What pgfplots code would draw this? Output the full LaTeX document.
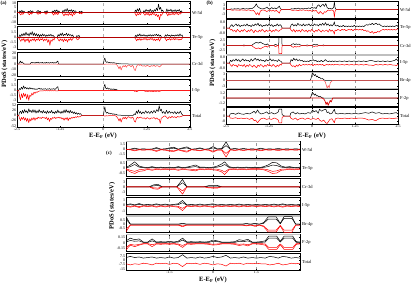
\documentclass[border=0pt]{standalone}
\usepackage{fontspec}
\setmainfont{Liberation Serif}
\usepackage{pgfplots}
\pgfplotsset{compat=1.18}
\usepackage{pgfplotstable}

\pgfplotstableread{
x u d
-2.50 0 0
-2.45 0 0
-2.42 1.8 -1.2
-2.39 0.4 -2.6
-2.36 2.4 -0.8
-2.33 0.6 -2.0
-2.30 1.5 -0.5
-2.27 0 0
-2.20 0 0
-2.17 1.2 -1.4
-2.14 0.5 -2.4
-2.11 2.0 -0.6
-2.08 0.8 -1.7
-2.05 1.6 -0.4
-2.02 0 0
-1.95 0 0
-1.92 1.0 -0.9
-1.89 2.2 -2.0
-1.86 0.5 -0.6
-1.83 1.4 -1.5
-1.80 0 0
-1.72 0 0
-1.69 1.3 -0.8
-1.66 0.4 -1.9
-1.63 1.9 -0.7
-1.60 0 0
-1.50 0 0
-1.47 1.6 -1.3
-1.44 0.6 -2.7
-1.41 2.4 -0.6
-1.38 1.0 -1.9
-1.35 2.8 -0.8
-1.32 0.5 -2.2
-1.29 1.7 -0.4
-1.26 0 0
-1.20 0 0
-1.17 2.2 -1.8
-1.14 0.7 -3.6
-1.11 3.4 -1.0
-1.08 1.2 -2.8
-1.05 4.2 -1.4
-1.02 0.9 -3.2
-0.99 2.6 -0.8
-0.96 1.4 -2.5
-0.93 3.0 -1.1
-0.90 0.8 -3.8
-0.87 2.4 -0.9
-0.84 1.1 -2.1
-0.81 1.8 -0.6
-0.78 0 0
-0.72 0 0
-0.69 1.2 -1.2
-0.66 0.4 -0.5
-0.63 1.4 -1.4
-0.60 0 0
0.90 0 0
0.92 2.6 -1.6
0.95 0.8 -3.5
0.98 3.8 -1.0
1.01 1.2 -2.6
1.04 4.4 -0.9
1.07 0.9 -2.2
1.10 0 0
1.14 0 0
1.17 2.0 -1.4
1.20 0.6 -3.0
1.23 3.2 -0.8
1.26 1.3 -2.4
1.29 2.6 -0.6
1.32 0.7 -3.2
1.35 3.6 -1.2
1.38 1.0 -2.8
1.41 2.2 -0.7
1.44 0.8 -2.0
1.47 3.0 -1.1
1.50 1.4 -3.4
1.53 4.6 -1.6
1.56 2.0 -4.2
1.59 8.8 -2.4
1.62 3.2 -7.6
1.65 5.4 -1.8
1.68 1.2 -3.0
1.71 2.6 -0.8
1.74 0 0
1.80 0 0
1.83 3.8 -1.4
1.86 1.0 -3.6
1.89 2.8 -0.8
1.92 1.6 -2.8
1.95 3.4 -1.2
1.98 0.8 -2.2
2.01 2.4 -0.6
2.04 1.2 -2.6
2.07 3.0 -1.0
2.10 0.9 -1.8
2.13 2.6 -0.7
2.16 1.4 -2.4
2.19 3.2 -1.2
2.22 0.6 -1.6
2.25 1.8 -0.5
2.28 0 0
2.50 0 0
}\aW

\pgfplotstableread{
x u d
-2.50 0 0
-2.45 0 0
-2.42 0.8 -0.6
-2.39 0.3 -1.2
-2.36 1.1 -0.4
-2.33 0.5 -0.9
-2.30 1.3 -0.3
-2.27 0.6 -1.4
-2.24 1.6 -0.5
-2.21 0.7 -1.0
-2.18 1.2 -0.3
-2.15 0.4 -1.6
-2.12 1.5 -0.6
-2.09 0.8 -1.1
-2.06 1.8 -0.4
-2.03 0.6 -0.9
-2.00 1.4 -0.3
-1.97 0.5 -1.2
-1.94 1.2 -0.5
-1.91 0.4 -0.8
-1.88 1.0 -0.3
-1.85 0.3 -1.0
-1.82 0.9 -0.4
-1.79 0.4 -0.7
-1.76 1.1 -0.3
-1.73 0.5 -1.1
-1.70 0.9 -0.5
-1.67 0.3 -0.9
-1.64 0.8 -0.4
-1.61 0.4 -1.5
-1.58 0.9 -0.6
-1.55 0.5 -2.4
-1.52 1.0 -0.7
-1.49 0.4 -1.2
-1.46 0.7 -0.4
-1.43 0.3 -0.8
-1.40 0 0
-1.34 0 0
-1.31 0.9 -0.6
-1.28 0.4 -1.1
-1.25 1.2 -0.4
-1.22 0.6 -0.9
-1.19 1.4 -0.5
-1.16 0.5 -1.3
-1.13 1.0 -0.4
-1.10 0.7 -1.0
-1.07 1.3 -0.6
-1.04 0.5 -1.4
-1.01 1.1 -0.5
-0.98 0.6 -0.8
-0.95 0.9 -0.3
-0.92 0.4 -0.9
-0.89 0.8 -0.4
-0.86 0 0
-0.80 0 0
-0.77 0.6 -0.5
-0.74 0.3 -0.7
-0.71 0.7 -0.3
-0.68 0 0
0.90 0 0
0.93 0.7 -0.5
0.96 0.3 -1.0
0.99 0.9 -0.4
1.02 0.5 -0.8
1.05 1.1 -0.3
1.08 0.4 -0.9
1.11 0.8 -0.4
1.14 0.5 -0.7
1.17 0.9 -0.3
1.20 0.4 -0.6
1.23 0.7 -0.3
1.26 0.3 -0.8
1.29 0.8 -0.4
1.32 0.5 -0.7
1.35 0.9 -0.3
1.38 0.4 -0.6
1.41 0.8 -0.3
1.44 0.5 -0.9
1.47 0.9 -0.4
1.50 0.6 -1.0
1.53 1.0 -0.5
1.56 0.5 -0.8
1.59 0.9 -0.3
1.62 0.4 -1.1
1.65 0.7 -0.4
1.68 0 0
1.76 0 0
1.79 0.8 -0.4
1.82 0.4 -1.0
1.85 0.9 -0.5
1.88 0.5 -0.7
1.91 0.7 -0.3
1.94 0.3 -0.8
1.97 0.8 -0.4
2.00 0.5 -0.6
2.03 0.7 -0.3
2.06 0.4 -0.7
2.09 0.8 -0.3
2.12 0.5 -0.6
2.15 0.9 -0.4
2.18 0.4 -0.8
2.21 1.1 -0.5
2.24 0.5 -0.7
2.27 0.8 -0.3
2.30 0 0
2.50 0 0
}\aTe

\pgfplotstableread{
x u d
-2.50 0 0
-2.45 0 0
-2.42 3.5 -0.3
-2.40 5.5 -0.5
-2.38 2.0 -0.2
-2.35 4.0 -0.4
-2.32 1.5 -0.2
-2.29 0 0
-2.12 0 0
-2.10 2.0 -0.2
-2.07 3.2 -0.3
-2.04 1.8 -0.2
-2.01 2.8 -0.3
-1.98 1.5 -0.2
-1.95 3.0 -0.3
-1.92 2.0 -0.2
-1.89 3.4 -0.4
-1.86 1.6 -0.2
-1.83 2.6 -0.3
-1.80 1.8 -0.2
-1.77 3.0 -0.3
-1.74 1.5 -0.2
-1.71 2.4 -0.3
-1.68 1.7 -0.2
-1.65 3.2 -0.4
-1.62 1.8 -0.2
-1.59 2.6 -0.3
-1.56 1.6 -0.2
-1.53 2.8 -0.3
-1.50 1.9 -0.2
-1.47 3.0 -0.3
-1.44 1.7 -0.2
-1.41 2.5 -0.3
-1.38 1.8 -0.2
-1.35 3.6 -0.4
-1.32 5.5 -0.5
-1.30 0 0
0.00 0 0
0.02 9.0 -0.5
0.04 11.0 -0.6
0.06 5.0 -0.3
0.09 3.0 -0.2
0.12 4.0 -0.3
0.15 2.2 -0.2
0.18 3.0 -0.2
0.21 1.8 -0.2
0.24 2.6 -0.2
0.27 1.6 -0.1
0.30 2.8 -0.2
0.33 1.4 -0.1
0.36 1.8 -0.3
0.39 0.8 -2.0
0.42 0.6 -5.0
0.45 0.4 -9.0
0.48 0.5 -4.0
0.51 0.3 -11.0
0.54 0.3 -6.0
0.57 0.2 -3.0
0.60 0.2 -5.0
0.63 0.1 -2.5
0.66 0.1 -6.0
0.69 0.1 -3.0
0.72 0 -2.0
0.76 0 -3.0
0.80 0 -5.0
0.83 0 -2.5
0.86 0 -4.0
0.89 0 -10.5
0.92 0 -12.0
0.95 0 -5.0
0.98 0 -2.0
1.01 0 -1.0
1.04 0 -2.5
1.07 0 -1.0
1.10 0 -3.0
1.14 0 -4.0
1.18 0 -3.0
1.22 0 -4.5
1.26 0 -2.5
1.30 0 -3.5
1.34 0 -5.0
1.38 0 -3.0
1.42 0 -4.0
1.46 0 -2.5
1.50 0 -4.5
1.54 0 -3.0
1.58 0 -3.5
1.62 0 -5.5
1.66 0 -3.0
1.70 0 0
2.50 0 0
}\aCr

\pgfplotstableread{
x u d
-2.50 0 0
-2.45 0 0
-2.43 0.6 -1.5
-2.40 0.3 -2.8
-2.37 1.0 -1.0
-2.34 0.4 -2.2
-2.31 1.4 -0.8
-2.28 0.6 -1.8
-2.25 1.0 -1.0
-2.22 0.5 -2.6
-2.19 0.8 -1.2
-2.16 0.4 -3.0
-2.13 0.9 -1.4
-2.10 0.5 -1.8
-2.07 0.7 -0.8
-2.04 0.4 -1.4
-2.01 0.6 -0.5
-1.98 0.3 -0.9
-1.95 0.5 -0.4
-1.92 0.3 -0.6
-1.89 0.6 -0.3
-1.86 0.7 -0.2
-1.83 0.4 -0.1
-1.80 0.6 -0.1
-1.77 0.3 -0.1
-1.74 0.5 -0.1
-1.71 0.4 0
-1.68 0.6 -0.1
-1.65 0.3 0
-1.62 0.5 -0.1
-1.59 0.4 0
-1.56 0.6 -0.1
-1.53 0.3 0
-1.50 0.5 -0.1
-1.47 0.4 0
-1.44 0.6 -0.1
-1.41 0.3 0
-1.38 0.5 -0.1
-1.35 0.9 -0.1
-1.32 1.2 -0.1
-1.30 0 0
0.00 0 0
0.02 1.4 -0.05
0.04 1.9 -0.1
0.06 0.8 -0.05
0.09 0.5 0
0.12 0.8 -0.05
0.15 0.4 0
0.18 0.6 0
0.21 0.3 0
0.24 0.5 0
0.27 0.3 0
0.30 0.5 0
0.33 0.2 0
0.36 0.4 0
0.40 0.1 0
0.45 0.05 0
0.50 0 0
0.88 0 0
0.90 0 -0.3
0.93 0 -0.15
0.96 0 -0.35
0.99 0 -0.2
1.02 0 0
1.18 0 0
1.20 0 -0.3
1.24 0 -0.2
1.28 0 -0.35
1.32 0 -0.15
1.36 0 -0.3
1.40 0 -0.2
1.44 0 -0.35
1.48 0 -0.2
1.52 0 -0.3
1.56 0 -0.15
1.60 0 -0.3
1.64 0 -0.2
1.68 0 0
2.50 0 0
}\aI

\pgfplotstableread{
x u d
-2.50 0 0
-2.45 0 0
-2.43 14 -12
-2.40 22 -26
-2.37 10 -10
-2.34 26 -20
-2.31 12 -8
-2.28 30 -24
-2.25 16 -12
-2.22 24 -30
-2.19 12 -14
-2.16 34 -36
-2.13 18 -16
-2.10 26 -28
-2.07 14 -12
-2.04 30 -22
-2.01 16 -10
-1.98 28 -24
-1.95 12 -12
-1.92 24 -18
-1.89 14 -8
-1.86 30 -14
-1.83 16 -10
-1.80 22 -16
-1.77 12 -8
-1.74 26 -12
-1.71 14 -10
-1.68 20 -16
-1.65 10 -8
-1.62 24 -22
-1.59 12 -12
-1.56 20 -30
-1.53 14 -14
-1.50 26 -20
-1.47 12 -10
-1.44 18 -14
-1.41 10 -8
-1.38 22 -16
-1.35 12 -10
-1.32 28 -12
-1.29 14 -8
-1.26 20 -14
-1.23 10 -10
-1.20 22 -18
-1.17 12 -12
-1.14 28 -24
-1.11 14 -12
-1.08 30 -20
-1.05 16 -10
-1.02 24 -26
-0.99 12 -12
-0.96 26 -18
-0.93 14 -10
-0.90 20 -14
-0.87 10 -8
-0.84 18 -12
-0.81 8 -6
-0.78 14 -10
-0.75 6 -4
-0.72 12 -8
-0.69 6 -6
-0.66 10 -4
-0.63 0 0
0.00 0 0
0.02 30 -2
0.04 44 -3
0.06 20 -2
0.09 12 -1
0.12 16 -2
0.15 10 -1
0.18 12 -1
0.21 8 -1
0.24 10 -1
0.27 6 -1
0.30 9 -1
0.33 5 -1
0.36 7 -2
0.39 3 -8
0.42 2 -16
0.45 2 -28
0.48 2 -14
0.51 1 -34
0.54 1 -18
0.57 1 -10
0.60 1 -16
0.63 1 -8
0.66 1 -18
0.69 1 -10
0.72 1 -6
0.76 1 -10
0.80 1 -14
0.83 1 -8
0.86 1 -12
0.89 8 -28
0.92 4 -34
0.95 22 -16
0.98 10 -8
1.01 28 -14
1.04 12 -10
1.07 20 -8
1.10 8 -12
1.14 18 -14
1.18 10 -12
1.22 24 -18
1.26 12 -10
1.30 20 -14
1.34 10 -18
1.38 22 -12
1.42 12 -14
1.46 26 -10
1.50 14 -18
1.54 30 -12
1.58 20 -20
1.61 50 -18
1.64 24 -40
1.67 32 -14
1.70 12 -10
1.74 20 -4
1.78 8 -2
1.82 26 -8
1.86 10 -16
1.90 22 -6
1.94 12 -12
1.98 18 -4
2.02 10 -10
2.06 20 -6
2.10 8 -12
2.14 18 -4
2.18 10 -8
2.22 22 -6
2.26 8 -4
2.30 0 0
2.50 0 0
}\aT

\pgfplotstableread{
x u d
-2.50 0 0
-2.38 0 0
-2.35 0.4 -0.3
-2.30 0.2 -0.5
-2.25 0.5 -0.2
-2.20 0.3 -0.4
-2.15 0.6 -0.3
-2.10 0.2 -0.5
-2.05 0.4 -0.2
-2.00 0.7 -0.4
-1.95 0.3 -0.3
-1.90 0.5 -0.6
-1.85 0.4 -0.2
-1.80 0.8 -0.5
-1.75 0.5 -0.9
-1.70 1.2 -0.6
-1.66 2.0 -1.6
-1.62 3.6 -3.2
-1.58 1.8 -2.0
-1.54 1.2 -3.6
-1.50 0.6 -1.0
-1.45 0.4 -0.4
-1.40 0.6 -0.3
-1.35 0.9 -0.8
-1.31 1.6 -1.4
-1.27 0.6 -0.5
-1.22 0.4 -0.3
-1.17 1.2 -1.0
-1.13 0.5 -0.4
-1.08 1.0 -1.2
-1.04 0.4 -0.5
-0.98 1.4 -1.6
-0.95 2.2 -2.4
-0.92 0.5 -0.6
-0.88 0 0
-0.64 0 0
-0.60 0.5 -0.4
-0.55 0.3 -0.6
-0.50 0.7 -0.3
-0.45 0.4 -0.5
-0.40 0.9 -0.7
-0.35 0.3 -0.3
-0.30 0.6 -0.5
-0.25 0.4 -0.2
-0.20 0.8 -0.6
-0.15 0.5 -0.4
-0.10 1.0 -0.9
-0.05 0.6 -0.5
0.00 1.4 -1.2
0.04 0.8 -0.6
0.08 1.2 -1.0
0.12 0.6 -0.5
0.16 2.4 -1.8
0.20 3.0 -2.6
0.24 1.6 -1.2
0.28 2.6 -2.2
0.32 3.4 -3.0
0.36 2.0 -1.4
0.40 3.8 -1.8
0.44 1.2 -0.8
0.48 0.6 -0.4
0.52 0.8 -0.6
0.56 0.4 -0.3
0.60 0.6 -0.5
0.63 1.4 -1.0
0.65 5.0 -5.0
0.67 1.2 -1.2
0.70 0 0
2.50 0 0
}\bW

\pgfplotstableread{
x u d
-2.50 0 0
-2.40 0 0
-2.37 0.3 -0.3
-2.33 0.5 -0.2
-2.29 0.2 -0.5
-2.25 0.4 -0.3
-2.21 0.6 -0.6
-2.17 0.3 -0.2
-2.13 0.5 -0.4
-2.09 0.2 -0.6
-2.05 0.4 -0.3
-2.01 0.3 -0.5
-1.97 0.5 -0.2
-1.93 0.3 -0.4
-1.89 0.6 -0.6
-1.85 0.3 -0.3
-1.81 0.4 -0.5
-1.77 0.2 -0.2
-1.73 0.5 -0.4
-1.69 0.3 -0.7
-1.65 0.6 -0.3
-1.61 0.4 -0.5
-1.57 0.7 -0.6
-1.53 0.3 -0.3
-1.49 0.5 -0.5
-1.45 0.2 -0.2
-1.41 0.4 -0.4
-1.37 0.3 -0.6
-1.33 0.5 -0.3
-1.29 0.3 -0.5
-1.25 0.6 -0.4
-1.21 0.3 -0.3
-1.17 0.5 -0.6
-1.13 0.2 -0.3
-1.09 0.4 -0.5
-1.05 0.3 -0.2
-1.01 0.6 -0.4
-0.97 0.3 -0.5
-0.93 0.5 -0.3
-0.89 0.3 -0.2
-0.87 0 0
-0.64 0 0
-0.61 0.4 -0.3
-0.57 0.6 -0.5
-0.53 0.3 -0.2
-0.49 0.5 -0.6
-0.45 0.3 -0.3
-0.41 0.7 -0.5
-0.37 0.4 -0.3
-0.33 0.5 -0.6
-0.29 0.3 -0.2
-0.25 0.6 -0.4
-0.21 0.3 -0.5
-0.17 0.5 -0.3
-0.13 0.4 -0.6
-0.09 0.6 -0.3
-0.05 0.3 -0.5
-0.01 0.5 -0.2
0.03 0.3 -0.4
0.07 0.6 -0.6
0.11 0.4 -0.3
0.15 0.5 -0.5
0.19 0.3 -0.2
0.23 0.6 -0.4
0.27 0.4 -0.6
0.31 0.7 -0.3
0.35 0.4 -0.5
0.39 0.8 -0.4
0.43 0.4 -0.3
0.47 0.6 -0.6
0.51 0.3 -0.2
0.55 0.5 -0.5
0.59 0.3 -0.3
0.63 0.6 -0.6
0.65 0.9 -0.9
0.67 0.4 -0.3
0.71 0.3 -0.4
0.75 0.4 -0.2
0.79 0.2 -0.3
0.83 0.3 -0.4
0.87 0.2 -0.2
0.91 0.4 -0.3
0.95 0.2 -0.2
0.99 0.3 -0.4
1.03 0.2 -0.3
1.07 0.3 -0.2
1.11 0.2 -0.3
1.15 0.3 -0.2
1.19 0.2 -0.4
1.23 0.4 -0.2
1.27 0.2 -0.3
1.31 0.3 -0.2
1.35 0.2 -0.3
1.39 0.3 -0.2
1.43 0.2 -0.3
1.47 0.3 -0.2
1.51 0.2 -0.4
1.55 0.4 -0.3
1.59 0.5 -0.5
1.63 0.4 -0.4
1.67 0.6 -0.6
1.71 0.5 -0.7
1.75 0.7 -0.5
1.79 0.5 -0.8
1.83 0.6 -0.6
1.87 0.7 -0.7
1.91 0.5 -0.5
1.95 0.6 -0.6
1.99 0.4 -0.4
2.03 0.3 -0.3
2.07 0.2 -0.2
2.11 0.3 -0.3
2.15 0.2 -0.2
2.19 0.3 -0.3
2.23 0.2 -0.2
2.27 0.3 -0.3
2.31 0.2 -0.2
2.35 0.3 -0.3
2.39 0.2 -0.2
2.43 0.3 -0.3
2.47 0.4 -0.2
2.50 0.2 -0.1
}\bTe

\pgfplotstableread{
x u d
-2.50 0 0
-2.00 0 0
-1.98 0.3 -0.3
-1.95 0 0
-1.75 0 0
-1.72 0.5 -0.5
-1.68 1.0 -1.0
-1.62 1.6 -1.6
-1.56 1.2 -1.2
-1.50 1.7 -1.7
-1.44 1.0 -1.0
-1.38 0.6 -0.6
-1.34 0.3 -0.3
-1.30 0.8 -0.8
-1.26 0.2 -0.2
-1.22 0 0
-1.10 0 0
-1.07 0.6 -0.6
-1.03 0.3 -0.3
-1.00 0 0
-0.97 0 0
-0.96 4.0 -4.0
-0.88 4.0 -4.0
-0.87 0 0
-0.62 0 0
-0.58 0.6 -0.6
-0.54 0.9 -0.9
-0.50 0.4 -0.4
-0.46 0.8 -0.8
-0.42 0.5 -0.5
-0.38 0.7 -0.7
-0.34 0.3 -0.3
-0.30 0 0
-0.18 0 0
-0.14 0.3 -0.3
-0.10 0 0
0.00 0 0
0.03 0.4 -0.3
0.07 0.6 -0.5
0.11 0.3 -0.2
0.15 0.5 -0.4
0.19 0 0
0.30 0 0
0.33 0.3 -0.2
0.36 0 0
2.50 0 0
}\bCr

\pgfplotstableread{
x u d
-2.50 0 0
-2.40 0 0
-2.37 0.4 -0.3
-2.33 0.2 -0.5
-2.29 0.5 -0.2
-2.25 0.3 -0.4
-2.21 0.6 -0.3
-2.17 0.3 -0.6
-2.13 0.5 -0.2
-2.09 0.2 -0.4
-2.05 0.4 -0.3
-2.01 0.6 -0.5
-1.97 0.3 -0.2
-1.93 0.5 -0.6
-1.89 0.3 -0.3
-1.85 0.4 -0.5
-1.81 0.2 -0.2
-1.77 0.6 -0.4
-1.73 0.3 -0.6
-1.69 0.5 -0.3
-1.65 0.7 -0.5
-1.61 0.4 -0.7
-1.57 0.6 -0.3
-1.53 0.3 -0.5
-1.49 0.5 -0.2
-1.45 0.3 -0.4
-1.41 0.4 -0.6
-1.37 0.2 -0.3
-1.33 0.5 -0.5
-1.29 0.3 -0.2
-1.25 0.4 -0.4
-1.21 0.6 -0.3
-1.17 0.3 -0.5
-1.13 0.5 -0.2
-1.09 0.3 -0.4
-1.05 0.4 -0.6
-1.01 0.2 -0.3
-0.97 0.5 -0.5
-0.93 0.3 -0.2
-0.89 0.2 -0.3
-0.87 0 0
-0.64 0 0
-0.61 0.5 -0.3
-0.57 0.3 -0.5
-0.53 0.7 -0.4
-0.49 0.4 -0.6
-0.45 0.6 -0.3
-0.41 0.3 -0.5
-0.37 0.5 -0.2
-0.33 0.3 -0.4
-0.29 0.4 -0.3
-0.25 0.2 -0.2
-0.21 0.3 -0.3
-0.17 0.2 -0.2
-0.13 0.3 -0.3
-0.09 0.2 -0.2
-0.05 0.4 -0.3
-0.01 0.3 -0.2
0.03 0.5 -0.4
0.07 0.3 -0.2
0.11 0.4 -0.3
0.15 0.2 -0.2
0.19 0.3 -0.3
0.23 0.2 -0.2
0.27 0.4 -0.3
0.31 0.2 -0.2
0.35 0.3 -0.4
0.39 0.5 -0.3
0.43 0.3 -0.2
0.47 0.2 -0.3
0.51 0.3 -0.2
0.55 0.2 -0.3
0.59 0.3 -0.2
0.63 0.2 -0.3
0.67 0.3 -0.2
0.73 0.2 -0.2
0.80 0.3 -0.3
0.87 0.2 -0.2
0.94 0.3 -0.3
1.01 0.2 -0.2
1.08 0.3 -0.3
1.15 0.2 -0.2
1.22 0.3 -0.3
1.29 0.2 -0.2
1.36 0.3 -0.3
1.43 0.2 -0.2
1.50 0.3 -0.3
1.57 0.2 -0.2
1.64 0.3 -0.3
1.71 0.4 -0.3
1.78 0.3 -0.4
1.85 0.2 -0.2
1.92 0.3 -0.3
1.99 0.2 -0.2
2.06 0.3 -0.3
2.13 0.2 -0.2
2.20 0.3 -0.3
2.27 0.2 -0.2
2.34 0.3 -0.3
2.41 0.4 -0.3
2.45 0.6 -0.4
2.50 0.3 -0.2
}\bI

\pgfplotstableread{
x u d
-2.50 0 0
-0.05 0 0
-0.02 1.5 0
0.01 3.8 0
0.04 3.2 0
0.07 2.4 0
0.10 3.0 0
0.13 1.8 0
0.16 2.2 0
0.19 1.4 0
0.22 1.6 0
0.26 0.8 0
0.30 1.0 0
0.34 0.4 0
0.38 0 -0.5
0.41 0 -2.0
0.44 0 -3.8
0.47 0 -2.5
0.50 0 -3.6
0.53 0 -1.2
0.56 0 -0.5
0.60 0 0
2.50 0 0
}\bBr

\pgfplotstableread{
x u d
-2.50 0 0
-0.05 0 0
-0.02 0.6 0
0.01 1.4 0
0.04 1.1 0
0.07 0.7 0
0.10 1.0 0
0.13 0.5 0
0.16 0.6 0
0.20 0.3 0
0.24 0.4 0
0.28 0.1 0
0.34 0 -0.2
0.38 0 -0.8
0.41 0 -1.6
0.44 0 -1.0
0.47 0 -1.8
0.50 0 -1.2
0.53 0 -0.6
0.56 0 -1.0
0.60 0 0
2.50 0 0
}\bF

\pgfplotstableread{
x u d
-2.50 0 0
-2.40 0 0
-2.38 3 -3
-2.30 4 -3.5
-2.22 2.5 -2.5
-2.14 4.5 -4
-2.06 3 -3
-1.98 2.5 -4
-1.90 4 -3
-1.82 3 -5
-1.74 5 -3
-1.68 7 -7
-1.64 4 -6
-1.58 9 -10
-1.54 5 -7
-1.48 3 -4
-1.40 4 -3
-1.32 6 -5
-1.26 3 -4
-1.18 5 -5
-1.10 3 -3
-1.04 4 -4
-0.98 6 -6
-0.96 10 -10
-0.88 10 -10
-0.87 2 -2
-0.80 0 0
-0.64 0 0
-0.62 4 -3
-0.55 6 -5
-0.48 3 -3
-0.42 5 -6
-0.36 3 -4
-0.28 4 -3
-0.20 3 -5
-0.12 5 -3
-0.04 4 -5
0.02 9 -4
0.06 6 -4
0.12 8 -5
0.18 4 -3
0.22 10 -6
0.28 7 -8
0.34 9 -6
0.40 10 -10
0.44 5 -11
0.48 6 -8
0.52 3 -5
0.58 4 -4
0.65 10 -10
0.68 4 -4
0.75 3 -3
0.85 4 -4
0.95 3 -3
1.05 4 -4
1.15 3 -3
1.25 4 -4
1.35 3 -3
1.45 4 -3
1.55 5 -4
1.65 4 -6
1.75 6 -5
1.85 4 -7
1.95 5 -4
2.05 3 -3
2.15 4 -4
2.25 3 -3
2.35 4 -4
2.45 5 -3
2.50 3 -3
}\bT

\pgfplotstableread{
x a b c d
-3.00 0 0 0 0
-2.85 0.1 0.05 -0.1 -0.05
-2.70 0.4 0.2 -0.4 -0.2
-2.55 0.1 0.05 -0.1 -0.05
-2.40 0.2 0.1 -0.2 -0.1
-2.25 0.1 0.05 -0.1 -0.05
-2.10 0.15 0.1 -0.15 -0.1
-1.95 0.6 0.3 -0.6 -0.3
-1.80 0.1 0.05 -0.1 -0.05
-1.65 0.2 0.1 -0.2 -0.1
-1.50 0.5 0.3 -0.5 -0.3
-1.35 0.7 0.4 -0.6 -0.4
-1.20 0.1 0.05 -0.1 -0.05
-1.05 0.5 0.3 -0.5 -0.3
-0.90 0.8 0.5 -0.8 -0.5
-0.75 0.1 0.05 -0.1 -0.05
-0.60 0.2 0.1 -0.2 -0.1
-0.45 0.5 0.3 -0.4 -0.3
-0.30 0.1 0.05 -0.1 -0.05
-0.15 0.2 0.1 -0.2 -0.1
0.00 0.9 0.5 -0.8 -0.5
0.15 0.2 0.1 -0.2 -0.1
0.30 0.3 0.1 -0.2 -0.1
0.45 2.3 1.2 -2.3 -1.2
0.60 0.1 0.05 -0.1 -0.05
0.75 0.3 0.2 -0.3 -0.2
0.90 0.1 0.05 -0.1 -0.05
1.05 0.3 0.2 -0.3 -0.2
1.20 0.1 0.05 -0.1 -0.05
1.35 0.2 0.1 -0.2 -0.1
1.50 0.1 0.05 -0.1 -0.05
1.65 0.4 0.2 -0.4 -0.2
1.80 0.1 0.05 -0.1 -0.05
1.95 0.2 0.1 -0.2 -0.1
2.10 0.1 0.05 -0.1 -0.05
2.25 0.3 0.15 -0.3 -0.15
2.40 0.1 0.05 -0.1 -0.05
2.55 0.2 0.1 -0.2 -0.1
2.70 0.1 0.05 -0.1 -0.05
2.85 0.2 0.1 -0.2 -0.1
3.00 0.1 0.05 -0.1 -0.05
}\cW

\pgfplotstableread{
x a b c d
-3.00 0.05 0.02 -0.1 -0.05
-2.85 0.3 0.15 -0.35 -0.2
-2.70 0.6 0.35 -0.5 -0.3
-2.55 0.2 0.1 -0.3 -0.15
-2.40 0.1 0.05 -0.25 -0.1
-2.25 0.05 0.02 -0.1 -0.05
-2.10 0.15 0.08 -0.2 -0.1
-1.95 0.05 0.02 -0.1 -0.05
-1.80 0.1 0.05 -0.15 -0.08
-1.65 0.05 0.02 -0.1 -0.05
-1.50 0.1 0.05 -0.15 -0.08
-1.35 0.05 0.02 -0.1 -0.05
-1.20 0.15 0.08 -0.2 -0.1
-1.05 0.05 0.02 -0.1 -0.05
-0.90 0.1 0.05 -0.15 -0.08
-0.75 0.2 0.1 -0.2 -0.1
-0.60 0.3 0.15 -0.25 -0.15
-0.45 0.1 0.05 -0.1 -0.05
-0.30 0.1 0.05 -0.15 -0.08
-0.15 0.05 0.02 -0.1 -0.05
0.00 0.1 0.05 -0.15 -0.08
0.15 0.2 0.1 -0.2 -0.1
0.30 0.4 0.2 -0.35 -0.2
0.40 0.6 0.35 -0.6 -0.35
0.55 0.15 0.08 -0.15 -0.08
0.70 0.05 0.02 -0.1 -0.05
0.85 0.1 0.05 -0.15 -0.08
1.00 0.05 0.02 -0.1 -0.05
1.15 0.1 0.05 -0.15 -0.08
1.30 0.05 0.02 -0.1 -0.05
1.45 0.1 0.05 -0.1 -0.05
1.60 0.05 0.02 -0.1 -0.05
1.75 0.15 0.08 -0.15 -0.08
1.90 0.3 0.15 -0.3 -0.15
2.05 0.55 0.3 -0.5 -0.3
2.20 0.5 0.25 -0.45 -0.25
2.35 0.2 0.1 -0.2 -0.1
2.50 0.1 0.05 -0.15 -0.08
2.65 0.15 0.08 -0.1 -0.05
2.80 0.05 0.02 -0.15 -0.08
3.00 0.1 0.05 -0.1 -0.05
}\cTe

\pgfplotstableread{
x a b c d
-3.00 0 0 0 0
-2.20 0 0 0 0
-2.05 1.2 0.6 -1.2 -0.6
-1.90 1.5 0.8 -1.5 -0.8
-1.75 0 0 0 0
-1.25 0 0 0 0
-1.05 4.5 2.5 -4.5 -2.5
-0.90 0 0 0 0
-0.30 0 0 0 0
-0.15 0.7 0.4 -0.7 -0.4
0.15 0.8 0.4 -0.8 -0.4
0.30 0 0 0 0
3.00 0 0 0 0
}\cCr

\pgfplotstableread{
x a b c d
-3.00 0.1 0.05 -0.1 -0.05
-2.85 0.3 0.15 -0.3 -0.15
-2.70 0.1 0.05 -0.1 -0.05
-2.55 0.35 0.2 -0.35 -0.2
-2.40 0.1 0.05 -0.1 -0.05
-2.25 0.2 0.1 -0.2 -0.1
-2.10 0.1 0.05 -0.1 -0.05
-1.95 0.3 0.15 -0.3 -0.15
-1.80 0.1 0.05 -0.1 -0.05
-1.65 0.25 0.12 -0.25 -0.12
-1.50 0.1 0.05 -0.1 -0.05
-1.35 0.2 0.1 -0.2 -0.1
-1.20 0.3 0.15 -0.3 -0.15
-1.05 0.9 0.5 -0.9 -0.5
-0.90 0.1 0.05 -0.1 -0.05
-0.75 0.2 0.1 -0.2 -0.1
-0.60 0.1 0.05 -0.1 -0.05
-0.45 0.25 0.12 -0.25 -0.12
-0.30 0.1 0.05 -0.1 -0.05
-0.15 0.2 0.1 -0.2 -0.1
0.00 0.3 0.15 -0.3 -0.15
0.15 0.1 0.05 -0.1 -0.05
0.30 0.2 0.1 -0.2 -0.1
0.45 0.1 0.05 -0.1 -0.05
0.60 0.2 0.1 -0.2 -0.1
0.75 0.1 0.05 -0.1 -0.05
0.90 0.25 0.12 -0.25 -0.12
1.05 0.1 0.05 -0.1 -0.05
1.20 0.2 0.1 -0.2 -0.1
1.35 0.1 0.05 -0.1 -0.05
1.50 0.2 0.1 -0.2 -0.1
1.65 0.1 0.05 -0.1 -0.05
1.80 0.2 0.1 -0.2 -0.1
1.95 0.1 0.05 -0.1 -0.05
2.10 0.25 0.12 -0.25 -0.12
2.25 0.1 0.05 -0.1 -0.05
2.40 0.3 0.15 -0.3 -0.15
2.55 0.1 0.05 -0.1 -0.05
2.70 0.2 0.1 -0.2 -0.1
2.85 0.1 0.05 -0.1 -0.05
3.00 0.2 0.1 -0.2 -0.1
}\cI

\pgfplotstableread{
x a b c d
-3.00 0.9 0.6 -0.9 -0.6
-2.85 0 0 -0.1 -0.1
-2.70 0 0 -0.1 -0.1
-1.20 0 0 -0.1 -0.1
-1.05 0.1 0.05 -0.3 -0.2
-0.90 0 0 -0.1 -0.1
1.00 0 0 -0.1 -0.1
1.15 0.08 0.04 -0.2 -0.15
1.30 0 0 -0.1 -0.1
1.45 0.1 0.05 -0.25 -0.18
1.60 0 0 -0.1 -0.1
1.75 0.2 0.1 -0.3 -0.2
1.90 0.85 0.6 -0.9 -0.7
2.18 0.85 0.6 -0.9 -0.7
2.32 0.1 0.05 -0.2 -0.15
2.45 0.9 0.7 -0.95 -0.7
2.72 0.9 0.7 -0.95 -0.7
2.85 0 0 -0.1 -0.1
3.00 0 0 -0.1 -0.1
}\cBr

\pgfplotstableread{
x a b c d
-3.00 0.05 0.02 -0.18 -0.12
-2.85 0.12 0.06 -0.06 -0.04
-2.70 0.08 0.04 -0.1 -0.06
-2.55 0.1 0.05 -0.06 -0.04
-2.40 0.02 0.01 -0.03 -0.02
-2.25 0.02 0.01 -0.03 -0.02
-2.10 0.1 0.05 -0.1 -0.05
-1.95 0.02 0.01 -0.03 -0.02
-1.80 0.03 0.01 -0.04 -0.02
-1.65 0.02 0.01 -0.03 -0.02
-1.50 0.04 0.02 -0.04 -0.02
-1.35 0.02 0.01 -0.03 -0.02
-1.20 0.04 0.02 -0.05 -0.03
-1.05 0.12 0.07 -0.12 -0.07
-0.90 0.02 0.01 -0.03 -0.02
-0.75 0.03 0.01 -0.04 -0.02
-0.60 0.02 0.01 -0.03 -0.02
-0.45 0.03 0.01 -0.03 -0.02
-0.30 0.02 0.01 -0.03 -0.02
-0.15 0.03 0.01 -0.04 -0.02
0.00 0.07 0.04 -0.06 -0.04
0.15 0.05 0.03 -0.05 -0.03
0.30 0.02 0.01 -0.03 -0.02
0.45 0.02 0.01 -0.03 -0.02
0.60 0.02 0.01 -0.03 -0.02
0.75 0.03 0.01 -0.04 -0.02
0.90 0.08 0.04 -0.07 -0.04
1.05 0.06 0.03 -0.05 -0.03
1.20 0.09 0.05 -0.08 -0.05
1.35 0.02 0.01 -0.03 -0.02
1.50 0.02 0.01 -0.03 -0.02
1.65 0.03 0.01 -0.04 -0.02
1.80 0.05 0.02 -0.06 -0.03
1.92 0.17 0.12 -0.17 -0.12
2.20 0.17 0.12 -0.17 -0.12
2.32 0.04 0.02 -0.05 -0.03
2.45 0.17 0.12 -0.17 -0.12
2.75 0.17 0.12 -0.17 -0.12
2.87 0.03 0.01 -0.04 -0.02
3.00 0.02 0.01 -0.03 -0.02
}\cF

\pgfplotstableread{
x a c
-3.00 5 -6
-2.85 7 -8
-2.70 5 -6
-2.55 6 -7
-2.40 4 -5
-2.25 5 -6
-2.10 6 -8
-1.95 4 -5
-1.80 5 -6
-1.65 4 -5
-1.50 6 -7
-1.35 4 -5
-1.20 5 -6
-1.05 10 -11
-0.90 4 -5
-0.75 5 -6
-0.60 4 -5
-0.45 6 -7
-0.30 4 -5
-0.15 5 -6
0.00 7 -8
0.15 5 -6
0.30 6 -7
0.45 9 -10
0.60 4 -5
0.75 5 -6
0.90 4 -5
1.05 6 -7
1.20 4 -5
1.35 5 -6
1.50 4 -5
1.65 5 -6
1.80 4 -6
1.95 7 -8
2.10 6 -7
2.25 4 -5
2.40 7 -8
2.55 6 -7
2.70 4 -5
2.85 5 -6
3.00 4 -5
}\cT

\pgfplotsset{
  base/.style={scale only axis, anchor=north west,
    axis line style={line width=0.5pt},
    major tick length=1.3pt, tick style={line width=0.35pt, black},
    tick label style={font=\fontsize{4}{4.5}\selectfont, inner sep=0.6pt},
    xticklabels={}, clip=true,
    every axis plot/.append style={line width=0.5pt, line join=round, mark=none}},
  pa/.style={base, width=173pt, height=23pt, xmin=-2.5, xmax=2.5,
    xtick={-2.5,-1.25,0,1.25,2.5},
    extra x ticks={0}, extra x tick labels={},
    extra x tick style={grid=major, major grid style={gray!60, dashed, line width=0.9pt}}},
  pb/.style={base, width=172pt, height=17pt, xmin=-2.5, xmax=2.5,
    xtick={-2.5,-1.25,0,1.25,2.5},
    extra x ticks={-1.25,0,1.25}, extra x tick labels={},
    extra x tick style={grid=major, major grid style={gray!80, dashed, line width=0.45pt}}},
  pc/.style={base, width=174pt, height=17pt, xmin=-3, xmax=3,
    xtick={-1.5,0,1.5},
    extra x ticks={-1.5,0,1.5}, extra x tick labels={},
    extra x tick style={grid=major, major grid style={gray!80, dashed, line width=0.45pt}}},
}
\newcommand{\lab}{\fontsize{4.5}{5}\selectfont}

\begin{document}
\begin{tikzpicture}
\useasboundingbox (0,0) rectangle (415pt,-284pt);

% ---------------- panel (a)
\begin{axis}[pa, name=aW, at={(17pt,-1pt)}, ymin=-12, ymax=12,
  ytick={-10,-5,0,5,10}, yticklabels={-10,-5,0,5,10}]
\addplot[black] table[x=x,y=u]{\aW};
\addplot[red] table[x=x,y=d]{\aW};
\addplot[red!70!black, line width=0.7pt] coordinates {(-2.5,0) (2.5,0)};
\end{axis}
\begin{axis}[pa, name=aTe, at={(17pt,-26pt)}, ymin=-3.5, ymax=3.5,
  ytick={-3,-1.5,0,1.5,3}, yticklabels={-3,-1.5,0,1.5,3}]
\addplot[black] table[x=x,y=u]{\aTe};
\addplot[red] table[x=x,y=d]{\aTe};
\addplot[red!70!black, line width=0.7pt] coordinates {(-2.5,0) (2.5,0)};
\end{axis}
\begin{axis}[pa, name=aCr, at={(17pt,-52pt)}, height=24pt, ymin=-22, ymax=22,
  ytick={-20,-10,0,10,20}, yticklabels={-20,-10,0,10,20}]
\addplot[black] table[x=x,y=u]{\aCr};
\addplot[red!75] table[x=x,y=d]{\aCr};
\end{axis}
\begin{axis}[pa, name=aI, at={(17pt,-79pt)}, ymin=-3.5, ymax=3.5,
  ytick={-3,-1.5,0,1.5,3}, yticklabels={-3,-1.5,0,1.5,3}]
\addplot[black] table[x=x,y=u]{\aI};
\addplot[red!70, line width=1.2pt] coordinates {(-1.3,0) (2.5,0)};
\addplot[red] table[x=x,y=d]{\aI};
\end{axis}
\begin{axis}[pa, name=aT, at={(17pt,-104pt)}, ymin=-58, ymax=58,
  ytick={-52,-26,0,26,52}, yticklabels={-52,-26,0,26,52},
  xticklabels={-2.5,-1.25,0,1.25,2.5}]
\addplot[black] table[x=x,y=u]{\aT};
\addplot[red] table[x=x,y=d]{\aT};
\end{axis}

% ---------------- panel (b)
\begin{axis}[pb, name=bW, at={(226pt,-1pt)}, ymin=-5.4, ymax=5.4,
  ytick={-3,0,3}, yticklabels={-3,0,3}]
\addplot[black] table[x=x,y=u]{\bW};
\addplot[red] table[x=x,y=d]{\bW};
\end{axis}
\begin{axis}[pb, name=bTe, at={(226pt,-19.5pt)}, ymin=-1.25, ymax=1.25,
  ytick={-0.8,0,0.8}, yticklabels={-0.8,0,0.8}]
\addplot[black] table[x=x,y=u]{\bTe};
\addplot[red] table[x=x,y=d]{\bTe};
\end{axis}
\begin{axis}[pb, name=bCr, at={(226pt,-37pt)}, ymin=-4.2, ymax=4.2,
  ytick={-2.5,0,2.5}, yticklabels={-2.5,0,2.5}]
\addplot[black] table[x=x,y=u]{\bCr};
\addplot[red] table[x=x,y=d]{\bCr};
\end{axis}
\begin{axis}[pb, name=bI, at={(226pt,-54.5pt)}, ymin=-1.25, ymax=1.25,
  ytick={-0.8,0,0.8}, yticklabels={-0.8,0,0.8}]
\addplot[gray!50, line width=1.4pt] coordinates {(-2.5,1.18) (2.5,1.18)};
\addplot[black] table[x=x,y=u]{\bI};
\addplot[red] table[x=x,y=d]{\bI};
\end{axis}
\begin{axis}[pb, name=bBr, at={(226pt,-72pt)}, ymin=-4.2, ymax=4.2,
  ytick={-3,0,3}, yticklabels={-3,0,3}]
\addplot[gray!50, line width=1.4pt] coordinates {(-2.5,3.9) (2.5,3.9)};
\addplot[gray!50, line width=1.4pt] coordinates {(-2.5,-3.9) (2.5,-3.9)};
\addplot[black] table[x=x,y=u]{\bBr};
\addplot[red!70] table[x=x,y=d]{\bBr};
\end{axis}
\begin{axis}[pb, name=bF, at={(226pt,-89.5pt)}, ymin=-2.1, ymax=2.1,
  ytick={-1.2,0,1.2}, yticklabels={-1.2,0,1.2}]
\addplot[black] table[x=x,y=u]{\bF};
\addplot[red!85!black, line width=0.7pt] table[x=x,y=d]{\bF};
\end{axis}
\begin{axis}[pb, name=bT, at={(226pt,-107.5pt)}, ymin=-12.5, ymax=12.5,
  ytick={-8,0,8}, yticklabels={-8,0,8},
  xticklabels={-2.5,-1.25,0,1.25,2.5}]
\addplot[black] table[x=x,y=u]{\bT};
\addplot[red] table[x=x,y=d]{\bT};
\end{axis}

% ---------------- panel (c)
\begin{axis}[pc, name=cW, at={(126pt,-141pt)}, ymin=-2.6, ymax=2.6,
  ytick={-1.5,0,1.5}, yticklabels={-1.5,0,1.5}]
\addplot[gray!50, line width=1.4pt] coordinates {(-3,2.45) (3,2.45)};
\addplot[black] table[x=x,y=a]{\cW};
\addplot[black] table[x=x,y=b]{\cW};
\addplot[red] table[x=x,y=c]{\cW};
\addplot[red] table[x=x,y=d]{\cW};
\end{axis}
\begin{axis}[pc, name=cTe, at={(126pt,-159.7pt)}, ymin=-0.8, ymax=0.8,
  ytick={-0.5,0,0.5}, yticklabels={-0.5,0,0.5}]
\addplot[gray!50, line width=1.4pt] coordinates {(-3,0.76) (3,0.76)};
\addplot[black] table[x=x,y=a]{\cTe};
\addplot[black] table[x=x,y=b]{\cTe};
\addplot[red] table[x=x,y=c]{\cTe};
\addplot[red] table[x=x,y=d]{\cTe};
\end{axis}
\begin{axis}[pc, name=cCr, at={(126pt,-178.3pt)}, ymin=-5.2, ymax=5.2,
  ytick={-3,0,3}, yticklabels={-3,0,3}]
\addplot[black] table[x=x,y=a]{\cCr};
\addplot[black] table[x=x,y=b]{\cCr};
\addplot[red] table[x=x,y=c]{\cCr};
\addplot[red] table[x=x,y=d]{\cCr};
\end{axis}
\begin{axis}[pc, name=cI, at={(126pt,-197pt)}, ymin=-1.5, ymax=1.5,
  ytick={-1,0,1}, yticklabels={-1,0,1}]
\addplot[black] table[x=x,y=a]{\cI};
\addplot[black] table[x=x,y=b]{\cI};
\addplot[red] table[x=x,y=c]{\cI};
\addplot[red] table[x=x,y=d]{\cI};
\end{axis}
\begin{axis}[pc, name=cBr, at={(126pt,-215.7pt)}, ymin=-1, ymax=1,
  ytick={-0.5,0,0.5}, yticklabels={-0.5,0,0.5}]
\addplot[gray!50, line width=1.6pt] coordinates {(-3,0.93) (3,0.93)};
\addplot[black] table[x=x,y=a]{\cBr};
\addplot[black] table[x=x,y=b]{\cBr};
\addplot[red] table[x=x,y=c]{\cBr};
\addplot[red] table[x=x,y=d]{\cBr};
\end{axis}
\begin{axis}[pc, name=cF, at={(126pt,-234.3pt)}, ymin=-0.22, ymax=0.22,
  ytick={-0.15,0,0.15}, yticklabels={-0.15,0,0.15}]
\addplot[gray!50, line width=1.4pt] coordinates {(-3,0.21) (3,0.21)};
\addplot[black] table[x=x,y=a]{\cF};
\addplot[black] table[x=x,y=b]{\cF};
\addplot[red] table[x=x,y=c]{\cF};
\addplot[red] table[x=x,y=d]{\cF};
\end{axis}
\begin{axis}[pc, name=cT, at={(126pt,-253pt)}, ymin=-17, ymax=13,
  ytick={-15,-7.5,0,7.5}, yticklabels={-15,-7.5,0,7.5},
  xticklabels={-1.5,0,1.5}]
\addplot[black] table[x=x,y=a]{\cT};
\addplot[red] table[x=x,y=c]{\cT};
\end{axis}

% ---------------- labels
\foreach \n/\t in {aW/W-5d, aTe/Te-5p, aCr/Cr-3d, aI/I-5p, aT/Total,
  bW/W-5d, bTe/Te-5p, bCr/Cr-3d, bI/I-5p, bBr/Br-4p, bF/F-2p, bT/Total,
  cW/W-5d, cTe/Te-5p, cCr/Cr-3d, cI/I-5p, cBr/Br-4p, cF/F-2p, cT/Total}
  \node[anchor=west, font=\lab, inner sep=0pt] at ([xshift=2pt]\n.east) {\t};

\node[font=\bfseries\fontsize{5}{6}\selectfont, anchor=north west, inner sep=0pt] at (0.5pt,-0.5pt) {(a)};
\node[font=\bfseries\fontsize{5}{6}\selectfont, anchor=north west, inner sep=0pt] at (206.5pt,-0.5pt) {(b)};
\node[font=\bfseries\fontsize{5}{6}\selectfont, anchor=north west, inner sep=0pt] at (106pt,-151pt) {(c)};

\node[rotate=90, font=\bfseries\fontsize{6.5}{7}\selectfont] at (4.5pt,-64pt) {PDoS (states/eV)};
\node[rotate=90, font=\bfseries\fontsize{6.5}{7}\selectfont] at (212.5pt,-63pt) {PDoS (states/eV)};
\node[rotate=90, font=\bfseries\fontsize{6.5}{7}\selectfont] at (112pt,-206pt) {PDoS (states/eV)};

\node[font=\bfseries\fontsize{6.5}{7}\selectfont] at (103pt,-136pt) {E-E\textsubscript{F} (eV)};
\node[font=\bfseries\fontsize{6.5}{7}\selectfont] at (312pt,-136pt) {E-E\textsubscript{F} (eV)};
\node[font=\bfseries\fontsize{6.5}{7}\selectfont] at (213pt,-279.5pt) {E-E\textsubscript{F} (eV)};
\end{tikzpicture}
\end{document}
